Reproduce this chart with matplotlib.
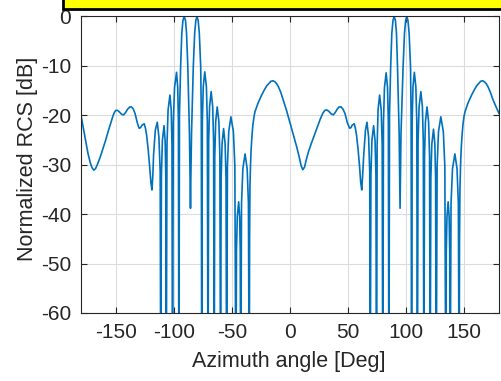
import matplotlib
matplotlib.use("Agg")
import matplotlib.pyplot as plt
from matplotlib.patches import Rectangle

# (azimuth deg, normalized RCS dB); nulls below -60 set to -80
left_half = [
    (-180, -20.0), (-178, -22.6), (-176, -25.3), (-174, -27.7), (-172, -29.6),
    (-170.5, -30.6), (-169, -31.1), (-167.5, -30.8), (-166, -30.0), (-164, -28.8),
    (-162, -27.4), (-159, -25.2), (-156, -22.8), (-154, -21.3), (-152.3, -20.0),
    (-151, -19.3), (-150, -19.0), (-148.5, -19.0), (-147, -19.3), (-145, -19.8),
    (-143.3, -19.9), (-141.5, -19.4), (-140, -18.8), (-138, -18.3), (-136.5, -18.3),
    (-135, -18.7), (-133.5, -19.6), (-131.5, -21.5), (-130, -22.6), (-128.7, -22.5),
    (-127.5, -22.0), (-125.6, -21.7), (-124.5, -22.6), (-123.5, -24.0), (-122.2, -26.8),
    (-121, -30.0), (-119.8, -33.6), (-118.9, -35.1), (-118.1, -32.0), (-117.5, -28.0),
    (-116, -23.0), (-114.3, -21.4),
    (-112.9, -24.4), (-111.8, -31.4), (-111.3, -80),
    (-110.74, -32.0), (-109.9, -25.1), (-108.5, -22.1), (-107.55, -25.1), (-106.98, -32.0), (-106.6, -80),
    (-105.95, -26.0), (-105.0, -18.9), (-103.4, -15.9), (-102.3, -18.9), (-101.65, -26.0), (-101.2, -80),
    (-100.5, -21.4), (-99.45, -14.4), (-97.7, -11.3), (-96.7, -14.4), (-96.1, -21.4), (-95.7, -80),
    (-95.2, -20.0), (-94.2, -10.2), (-93.2, -3.4), (-92.2, -0.8), (-91.1, 0.0),
    (-90.0, -0.8), (-89.1, -3.4), (-88.0, -10.2), (-86.6, -23.6), (-86.05, -32.0),
    (-85.7, -38.8), (-85.35, -32.0), (-84.8, -23.6), (-83.3, -10.2), (-82.1, -3.4),
    (-81.1, -0.8), (-80.1, 0.0), (-79.1, -0.8), (-78.1, -3.4), (-76.9, -10.2),
    (-76.4, -20.0), (-76.0, -80),
    (-75.5, -21.2), (-74.7, -14.2), (-73.4, -11.2), (-72.0, -14.2), (-71.2, -21.2), (-70.6, -80),
    (-70.05, -25.2), (-69.25, -18.2), (-67.9, -15.2), (-66.6, -18.2), (-65.8, -25.2), (-65.3, -80),
    (-64.8, -28.3), (-64.0, -21.3), (-62.7, -18.3), (-61.25, -21.3), (-60.4, -28.3), (-59.8, -80),
    (-59.3, -32.7), (-58.5, -25.7), (-57.2, -22.7), (-55.9, -25.7), (-55.1, -32.7), (-54.6, -80),
    (-53.9, -30.3), (-52.75, -23.3), (-50.9, -20.3), (-48.75, -23.3), (-47.5, -30.3), (-46.6, -80),
    (-46.1, -47.5), (-45.4, -40.5), (-44.2, -37.5), (-43.35, -40.5), (-42.85, -47.5), (-42.5, -80),
    (-41.75, -37.8), (-40.6, -30.8), (-38.7, -27.8), (-36.9, -30.8), (-35.8, -37.8), (-35.1, -80),
    (-34.8, -45.0), (-34.5, -34.5), (-34.0, -30.0), (-33.5, -27.0), (-32.8, -24.3),
    (-32, -22.0), (-31.0, -20.3), (-30.2, -19.3), (-29.0, -18.5), (-27.5, -17.5),
    (-26.0, -16.7), (-24.4, -15.9), (-22.2, -14.9), (-20, -14.0), (-18.0, -13.5),
    (-16.3, -13.1), (-14.7, -13.0), (-13.0, -13.2), (-11.5, -13.6), (-10, -14.2),
    (-8.0, -15.3), (-5.8, -16.9), (-3.0, -19.0), (0, -21.5),
]

right_half = [
    (3.0, -24.0), (5.8, -26.4), (8.0, -28.5), (9.6, -30.2), (11, -31.0),
    (12.5, -30.5), (14.0, -29.0), (16, -27.3), (18.5, -25.6), (21.6, -23.6),
    (24.0, -22.0), (26, -20.8), (28.2, -19.6), (30, -19.0), (31.7, -18.9),
    (33.5, -19.2), (35.4, -19.7), (37.3, -19.9), (39.0, -19.4), (40.5, -18.8),
    (42.3, -18.3), (44, -18.3), (45.5, -18.7), (47.3, -19.6), (49.4, -21.5),
    (51.3, -22.6), (52.5, -22.5), (53.5, -22.0), (55.3, -21.7), (56.3, -22.6),
    (57.3, -24.0), (58.6, -26.8), (59.8, -30.0), (60.9, -33.6), (61.8, -35.1),
    (62.6, -32.0), (63.5, -28.0), (65, -23.0), (66.3, -21.4),
    (67.7, -24.4), (68.66, -31.4), (69.1, -80),
    (69.7, -32.0), (70.55, -25.1), (72.0, -22.1), (73.25, -25.1), (74.0, -32.0), (74.5, -80),
    (75.05, -26.0), (75.85, -18.9), (77.2, -15.9), (78.55, -18.9), (79.4, -26.0), (79.9, -80),
    (80.5, -21.4), (81.35, -14.4), (82.8, -11.4), (84.0, -14.4), (84.7, -21.4), (85.2, -80),
    (85.7, -20.0), (86.7, -10.2), (87.7, -3.4), (88.7, -0.8), (89.7, 0.0),
    (90.8, -0.8), (91.7, -3.4), (92.6, -10.2), (94.0, -23.6), (94.45, -32.0),
    (94.8, -38.8), (95.15, -32.0), (95.6, -23.6), (97.4, -10.2), (98.6, -3.4),
    (99.6, -0.8), (100.6, 0.0), (101.6, -0.8), (102.6, -3.4), (103.8, -10.2),
    (104.3, -20.0), (104.7, -80),
    (105.2, -21.3), (105.9, -14.3), (107.1, -11.3), (108.4, -14.3), (109.2, -21.3), (109.7, -80),
    (110.3, -25.2), (111.2, -18.2), (112.7, -15.2), (114.0, -18.2), (114.8, -25.2), (115.3, -80),
    (115.85, -28.3), (116.65, -21.3), (118.0, -18.3), (119.35, -21.3), (120.2, -28.3), (120.7, -80),
    (121.3, -32.8), (122.15, -25.8), (123.6, -22.8), (124.75, -25.8), (125.4, -32.8), (125.9, -80),
    (126.7, -30.3), (127.9, -23.3), (129.9, -20.3), (132.05, -23.3), (133.35, -30.3), (134.2, -80),
    (134.6, -47.5), (135.2, -40.5), (136.2, -37.5), (137.05, -40.5), (137.55, -47.5), (137.9, -80),
    (138.7, -37.8), (139.95, -30.8), (142.0, -27.8), (143.85, -30.8), (145.0, -37.8), (145.7, -80),
    (146.0, -45.0), (146.4, -34.5), (146.9, -30.0), (147.4, -27.0), (148.1, -24.3),
    (148.9, -22.0), (149.8, -20.3), (150.7, -19.3), (151.9, -18.5), (153.3, -17.5),
    (154.8, -16.7), (156.4, -15.9), (158.6, -14.9), (160.8, -14.0), (162.7, -13.5),
    (164.3, -13.1), (165.8, -13.0), (167.4, -13.2), (169.0, -13.6), (170.5, -14.2),
    (172.5, -15.3), (174.6, -16.7), (177.3, -18.2), (180, -19.6),
]

x_ticks = [-150, -100, -50, 0, 50, 100, 150]
y_ticks = [-60, -50, -40, -30, -20, -10, 0]

azimuth = [p[0] for p in left_half + right_half]
rcs_db = [p[1] for p in left_half + right_half]

plt.rcParams['font.family'] = ['Liberation Sans', 'DejaVu Sans']
plt.rcParams['axes.unicode_minus'] = False

fig = plt.figure(figsize=(5.02, 3.81), dpi=100)
ax = fig.add_axes([81 / 502, 68 / 381, 418 / 502, 296.5 / 381])

ax.plot(azimuth, rcs_db, color='#0072BD', lw=1.2)
ax.set_xlim(-180, 180)
ax.set_ylim(-60, 0)
ax.set_xticks(x_ticks)
ax.set_yticks(y_ticks)

ax.grid(True, color='#dcdcdc', lw=0.8)
ax.set_axisbelow(True)
ax.tick_params(direction='in', top=True, right=True, length=4, width=0.8,
               colors='#262626', labelsize=15, pad=7)
for s in ax.spines.values():
    s.set_color('#262626')
    s.set_linewidth(0.8)

ax.set_xlabel("Azimuth angle [Deg]", fontsize=15.5, color='#262626', va='center')
ax.xaxis.set_label_coords(0.498, -0.164)
ax.set_ylabel("Normalized RCS [dB]", fontsize=15.5, color='#262626', va='center')
ax.yaxis.set_label_coords(-0.127, 0.52)

# yellow title box cut off at the top
fig.patches.append(Rectangle((63 / 502, 372 / 381), 0.95, 0.1, transform=fig.transFigure,
                             facecolor='#ffff00', edgecolor='black', lw=2, clip_on=False))

fig.savefig("out.png", dpi=100)
